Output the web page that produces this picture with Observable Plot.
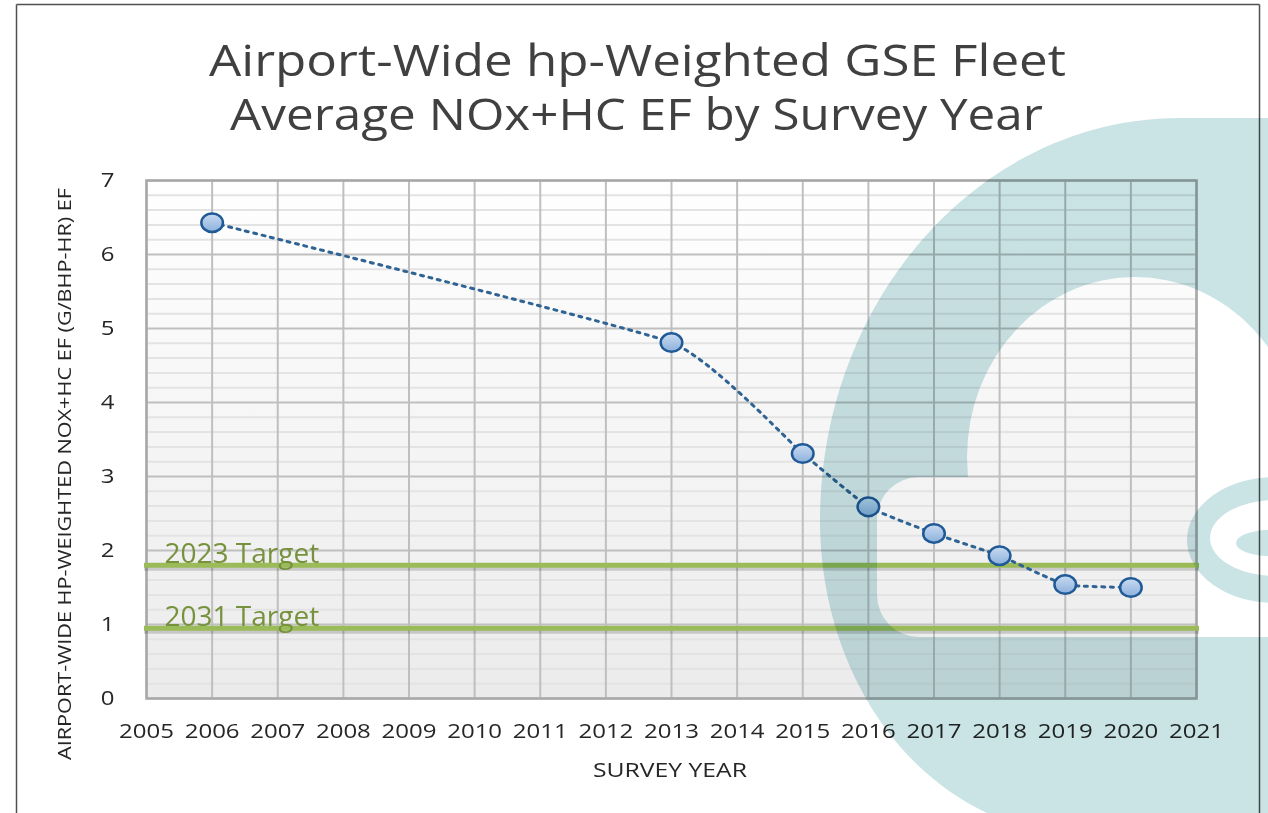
<!DOCTYPE html>
<html><head><meta charset="utf-8">
<script src="https://cdn.jsdelivr.net/npm/d3@7"></script>
<script src="https://cdn.jsdelivr.net/npm/@observablehq/plot@0.6"></script>
<style>
html,body{margin:0;padding:0;background:#fff;}
#wrap{position:relative;width:1268px;height:813px;overflow:hidden;font-family:"Open Sans",sans-serif;}
#wrap > svg{position:absolute;left:0;top:0;}
</style></head><body><div id="wrap"></div>
<script>
// ---- data ----
const surveyYears = [2006, 2013, 2015, 2016, 2017, 2018, 2019, 2020];
const efValues = [6.43, 4.81, 3.31, 2.59, 2.23, 1.93, 1.54, 1.50];
const targetNames = ["2023 Target", "2031 Target"];
const targetValues = [1.8, 0.95];
const xTickYears = [2005, 2006, 2007, 2008, 2009, 2010, 2011, 2012, 2013, 2014, 2015, 2016, 2017, 2018, 2019, 2020, 2021];
const yTickValues = [0, 1, 2, 3, 4, 5, 6, 7];
const titleLines = ["Airport-Wide hp-Weighted GSE Fleet", "Average NOx+HC EF by Survey Year"];
const yTitle = "AIRPORT-WIDE HP-WEIGHTED NOX+HC EF (G/BHP-HR) EF";
const xTitle = "SURVEY YEAR";

const points = surveyYears.map((year, i) => ({year, value: efValues[i]}));
const targets = targetNames.map((label, i) => ({label, value: targetValues[i]}));
const minorY = d3.range(0, 7.0001, 0.2).map(v => Math.round(v * 10) / 10).filter(v => Math.abs(v - Math.round(v)) > 1e-6);

const ellipseSymbol = {
  draw(ctx, size) {
    const r = Math.sqrt(size / Math.PI), a = r * 1.08, b = r * 0.93, k = 0.5523;
    ctx.moveTo(a, 0);
    ctx.bezierCurveTo(a, k * b, k * a, b, 0, b);
    ctx.bezierCurveTo(-k * a, b, -a, k * b, -a, 0);
    ctx.bezierCurveTo(-a, -k * b, -k * a, -b, 0, -b);
    ctx.bezierCurveTo(k * a, -b, a, -k * b, a, 0);
    ctx.closePath();
  }
};

const chart = Plot.plot({
  width: 1268, height: 813,
  marginLeft: 146, marginRight: 72, marginTop: 180, marginBottom: 115,
  style: {fontFamily: "Open Sans, sans-serif", fontSize: "20px", color: "#262626", overflow: "visible"},
  x: {domain: [2005, 2021]},
  y: {domain: [0, 7]},
  marks: [
    Plot.frame({fill: "url(#bgGrad)", stroke: "none"}),
    Plot.ruleY(minorY, {stroke: "#e3e3e3", strokeWidth: 2}),
    Plot.ruleY(yTickValues, {stroke: "#bfbfbf", strokeWidth: 2}),
    Plot.ruleX(xTickYears, {stroke: "#bfbfbf", strokeWidth: 2}),
    Plot.frame({stroke: "#a8a8a8", strokeWidth: 2.5}),
    Plot.axisX({ticks: xTickYears, tickFormat: d => String(d), tickSize: 0, tickPadding: 25, fontSize: 20, label: null, fill: "#262626"}),
    Plot.axisY({ticks: yTickValues, tickFormat: d => String(d), tickSize: 0, tickPadding: 32, fontSize: 20, label: null, fill: "#262626"}),
    Plot.ruleY(targets, {y: "value", stroke: "#000", strokeOpacity: 0.16, strokeWidth: 5, dy: 3, insetLeft: -2, insetRight: -3}),
    Plot.ruleY(targets, {y: "value", stroke: "#9bbb59", strokeWidth: 5, insetLeft: -2, insetRight: -3}),
    Plot.text(targets, {y: "value", text: "label", frameAnchor: "left", textAnchor: "start", dx: 18, dy: -11, fontSize: 28, fill: "#76923c"}),
    Plot.line(points, {x: "year", y: "value", curve: d3.curveCardinal.tension(0.6), stroke: "#2f6394", strokeWidth: 3, strokeDasharray: "3,5.6"}),
    Plot.dot(points, {x: "year", y: "value", r: 10, symbol: ellipseSymbol, fill: "url(#ptGrad)", stroke: "#1f5a96", strokeWidth: 2.5})
  ]
});

const wrap = document.getElementById("wrap");
wrap.appendChild(chart);

// gradients
const defs = d3.select(chart).insert("defs", ":first-child");
const bg = defs.append("linearGradient").attr("id", "bgGrad").attr("x1", 0).attr("y1", 0).attr("x2", 0).attr("y2", 1);
bg.append("stop").attr("offset", "0%").attr("stop-color", "#ffffff");
bg.append("stop").attr("offset", "100%").attr("stop-color", "#ebebeb");
const pg = defs.append("linearGradient").attr("id", "ptGrad").attr("x1", 0).attr("y1", 0).attr("x2", 0).attr("y2", 1);
pg.append("stop").attr("offset", "0%").attr("stop-color", "#c9dbf1");
pg.append("stop").attr("offset", "100%").attr("stop-color", "#8cb0dc");

// stretch tick labels horizontally (the reference uses a wide, stretched face)
d3.select(chart).selectAll('g[aria-label="x-axis tick label"] text, g[aria-label="y-axis tick label"] text').each(function() {
  const w = this.getComputedTextLength();
  this.setAttribute("textLength", (w * 1.2).toFixed(1));
  this.setAttribute("lengthAdjust", "spacingAndGlyphs");
});

// text overlay: titles and axis titles, page frame
const over = d3.select(wrap).append("svg").attr("width", 1268).attr("height", 813)
  .style("pointer-events", "none").attr("font-family", "Open Sans, sans-serif");
over.append("line").attr("x1", 16.5).attr("y1", 4.5).attr("x2", 16.5).attr("y2", 813).attr("stroke", "#505050").attr("stroke-width", 1.5);
over.append("line").attr("x1", 16.5).attr("y1", 4.5).attr("x2", 1259.5).attr("y2", 4.5).attr("stroke", "#505050").attr("stroke-width", 1.5);
over.append("line").attr("x1", 1259.5).attr("y1", 4.5).attr("x2", 1259.5).attr("y2", 813).attr("stroke", "#505050").attr("stroke-width", 1.5);
over.append("text").attr("x", 637.5).attr("y", 76).attr("text-anchor", "middle").attr("font-size", 43).attr("fill", "#404040")
  .attr("textLength", 857).attr("lengthAdjust", "spacingAndGlyphs").text(titleLines[0]);
over.append("text").attr("x", 636.5).attr("y", 130).attr("text-anchor", "middle").attr("font-size", 43).attr("fill", "#404040")
  .attr("textLength", 813).attr("lengthAdjust", "spacingAndGlyphs").text(titleLines[1]);
over.append("text").attr("transform", "translate(71,474) rotate(-90)").attr("text-anchor", "middle").attr("font-size", 19).attr("fill", "#262626")
  .attr("textLength", 572).attr("lengthAdjust", "spacingAndGlyphs").text(yTitle);
over.append("text").attr("x", 670).attr("y", 777).attr("text-anchor", "middle").attr("font-size", 20).attr("fill", "#262626")
  .attr("textLength", 154).attr("lengthAdjust", "spacingAndGlyphs").text(xTitle);

// decorative logo watermark (multiplied over the page)
const wm = d3.select(wrap).append("svg").attr("width", 1268).attr("height", 813)
  .style("pointer-events", "none").style("mix-blend-mode", "multiply");
const mask = wm.append("defs").append("mask").attr("id", "wmMask").attr("maskUnits", "userSpaceOnUse")
  .attr("x", 0).attr("y", 0).attr("width", 1268).attr("height", 813);
mask.append("path").attr("d", "M1300,118 L1180,118 C980,118 820,300 820,520 C820,650 885,765 987,813 L1300,813 Z").attr("fill", "white");
mask.append("ellipse").attr("cx", 1135).attr("cy", 457).attr("rx", 168).attr("ry", 180).attr("fill", "black");
mask.append("rect").attr("x", 877).attr("y", 477).attr("width", 450).attr("height", 160).attr("rx", 42).attr("fill", "black");
wm.append("rect").attr("width", 1268).attr("height", 813).attr("fill", "#cae3e5").attr("mask", "url(#wmMask)");
function ell(cx, cy, rx, ry) {
  return `M${cx - rx},${cy} a${rx},${ry} 0 1,0 ${2 * rx},0 a${rx},${ry} 0 1,0 ${-2 * rx},0 Z`;
}
wm.append("path").attr("fill-rule", "evenodd").attr("fill", "#cae3e5")
  .attr("d", ell(1275, 540, 88, 63) + ell(1275, 538, 65, 38) + ell(1270, 543, 34, 13));
</script></body></html>
